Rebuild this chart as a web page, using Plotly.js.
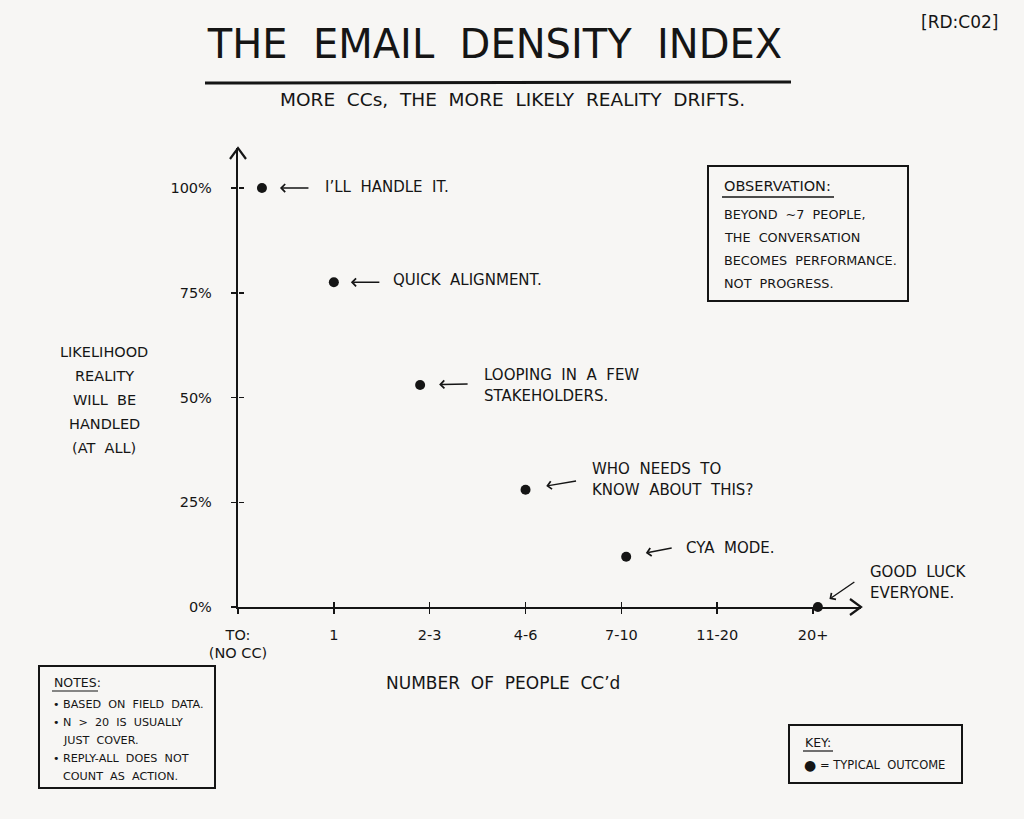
<!DOCTYPE html>
<html>
<head>
<meta charset="utf-8">
<script src="https://cdn.plot.ly/plotly-3.0.1.min.js"></script>
<style>html,body{margin:0;padding:0;background:#f7f6f4;}</style>
</head>
<body>
<div id="chart" style="width:1024px;height:819px;"></div>
<script>
// ---- data ----
const categories = ['TO:<br>(NO CC)', '1', '2-3', '4-6', '7-10', '11-20', '20+'];
const categoryPos = [0, 1, 2, 3, 4, 5, 6];
const pointX = [0.25, 1.0, 1.9, 3.0, 4.05, 6.05];
const likelihood = [100, 77.5, 53, 28, 12, 0];
const pointLabels = ["I’LL HANDLE IT.", 'QUICK ALIGNMENT.', 'LOOPING IN A FEW<br>STAKEHOLDERS.',
  'WHO NEEDS TO<br>KNOW ABOUT THIS?', 'CYA MODE.', 'GOOD LUCK<br>EVERYONE.'];
const yTickVals = [0, 25, 50, 75, 100];
const yTickText = ['0%', '25%', '50%', '75%', '100%'];
const yTitleLines = ['LIKELIHOOD', 'REALITY', 'WILL BE', 'HANDLED', '(AT ALL)'];
const obsLines = ['BEYOND ~7 PEOPLE,', 'THE CONVERSATION', 'BECOMES PERFORMANCE.', 'NOT PROGRESS.'];
const noteLines = [['•', 'BASED ON FIELD DATA.'], ['•', 'N > 20 IS USUALLY'], ['', 'JUST COVER.'], ['•', 'REPLY-ALL DOES NOT'], ['', 'COUNT AS ACTION.']];

// ---- styling / layout helpers ----
const FONT = "'DejaVu Sans', 'Noto Sans', sans-serif";
const INK = '#151515';
const BG = '#f7f6f4';
const L = 238, R = 861, T = 148, B = 607;
const W = R - L, H = B - T;
const px = x => (x - L) / W;
const py = y => (B - y) / H;
const gap = n => s => s.replace(/ /g, '\u00a0'.repeat(n));
const sp2 = gap(2), sp3 = gap(3);

// arrow (tail offset ax, ay; standoff) and text offsets per label
const arrowStyle = [
  {ax: 48, ay: 0, so: 18}, {ax: 47, ay: 0, so: 17}, {ax: 49, ay: -1, so: 19},
  {ax: 52, ay: -9, so: 21}, {ax: 47, ay: -9, so: 20}, {ax: 38, ay: -26, so: 14}];
const textStyle = [
  {dx: 61, dy: [1]}, {dx: 57, dy: [2]}, {dx: 62, dy: [10, -11]},
  {dx: 64, dy: [21, 0]}, {dx: 58, dy: [9]}, {dx: 50, dy: [35, 14]}];

const traces = [{
  type: 'scatter', mode: 'markers', x: pointX, y: likelihood,
  marker: {color: INK, size: 10}, cliponaxis: false, hoverinfo: 'skip', showlegend: false
}, {
  type: 'scatter', mode: 'markers', x: [], y: [], xaxis: 'x2', yaxis: 'y2', showlegend: false
}];

const annotations = [];
const shapes = [];

// point labels + arrows
pointLabels.forEach((lab, i) => {
  const a = arrowStyle[i];
  annotations.push({x: pointX[i], y: likelihood[i], xref: 'x', yref: 'y', text: '', showarrow: true,
    ax: a.ax, ay: a.ay, standoff: a.so, arrowhead: 4, arrowsize: 1.1, arrowwidth: 1.4, arrowcolor: INK});
  const lines = lab.split('<br>');
  lines.forEach((ln, j) => {
    annotations.push({x: pointX[i], y: likelihood[i], xref: 'x', yref: 'y', text: sp2(ln), showarrow: false,
      xanchor: 'left', yanchor: 'middle', xshift: textStyle[i].dx, yshift: textStyle[i].dy[j],
      font: {family: FONT, size: 15, color: INK}});
  });
});

// y title lines
yTitleLines.forEach((ln, j) => {
  annotations.push({x: px(104), y: py(352 + 24 * j), xref: 'paper', yref: 'paper', text: sp2(ln),
    showarrow: false, xanchor: 'center', yanchor: 'middle', font: {family: FONT, size: 14.5, color: INK}});
});

// x title
annotations.push({x: px(503), y: py(683), xref: 'paper', yref: 'paper', text: sp2('NUMBER OF PEOPLE CC’d'),
  showarrow: false, xanchor: 'center', yanchor: 'middle', font: {family: FONT, size: 17, color: INK}});

// subtitle & tag
annotations.push({x: px(512), y: py(100), xref: 'paper', yref: 'paper', text: sp2('MORE CCs, THE MORE LIKELY REALITY DRIFTS.'),
  showarrow: false, xanchor: 'center', yanchor: 'middle', font: {family: FONT, size: 18.5, color: INK}});
annotations.push({x: px(1000), y: py(22), xref: 'paper', yref: 'paper', text: '[RD:C02]',
  showarrow: false, xanchor: 'right', yanchor: 'middle', font: {family: FONT, size: 17, color: INK}});

// title underline
shapes.push({type: 'line', xref: 'paper', yref: 'paper', x0: px(205), x1: px(791), y0: py(83), y1: py(82),
  line: {color: INK, width: 3}});

// observation box
shapes.push({type: 'rect', xref: 'paper', yref: 'paper', x0: px(708), x1: px(908), y0: py(166), y1: py(301),
  line: {color: INK, width: 2}, fillcolor: 'rgba(0,0,0,0)'});
annotations.push({x: px(722), y: py(186), xref: 'paper', yref: 'paper', text: 'OBSERVATION:', showarrow: false,
  xanchor: 'left', yanchor: 'middle', font: {family: FONT, size: 14.5, color: INK}});
shapes.push({type: 'line', xref: 'paper', yref: 'paper', x0: px(722), x1: px(834), y0: py(197), y1: py(197),
  line: {color: INK, width: 1.3}});
obsLines.forEach((ln, j) => {
  annotations.push({x: px(722), y: py(214 + 23 * j), xref: 'paper', yref: 'paper', text: sp2(ln), showarrow: false,
    xanchor: 'left', yanchor: 'middle', font: {family: FONT, size: 12.8, color: INK}});
});

// notes box
shapes.push({type: 'rect', xref: 'paper', yref: 'paper', x0: px(39), x1: px(215), y0: py(666), y1: py(788),
  line: {color: INK, width: 2}, fillcolor: 'rgba(0,0,0,0)'});
annotations.push({x: px(52), y: py(682), xref: 'paper', yref: 'paper', text: 'NOTES:', showarrow: false,
  xanchor: 'left', yanchor: 'middle', font: {family: FONT, size: 12.5, color: INK}});
shapes.push({type: 'line', xref: 'paper', yref: 'paper', x0: px(52), x1: px(98), y0: py(691), y1: py(691),
  line: {color: INK, width: 1.2}});
noteLines.forEach((ln, j) => {
  const yy = py(704 + 18.2 * j);
  if (ln[0]) annotations.push({x: px(51), y: yy, xref: 'paper', yref: 'paper', text: ln[0], showarrow: false,
    xanchor: 'left', yanchor: 'middle', font: {family: FONT, size: 11, color: INK}});
  annotations.push({x: px(61), y: yy, xref: 'paper', yref: 'paper', text: sp2(ln[1]), showarrow: false,
    xanchor: 'left', yanchor: 'middle', font: {family: FONT, size: 11.2, color: INK}});
});

// key box
shapes.push({type: 'rect', xref: 'paper', yref: 'paper', x0: px(789), x1: px(962), y0: py(725), y1: py(783),
  line: {color: INK, width: 2}, fillcolor: 'rgba(0,0,0,0)'});
annotations.push({x: px(803), y: py(742), xref: 'paper', yref: 'paper', text: 'KEY:', showarrow: false,
  xanchor: 'left', yanchor: 'middle', font: {family: FONT, size: 12.5, color: INK}});
shapes.push({type: 'line', xref: 'paper', yref: 'paper', x0: px(803), x1: px(833), y0: py(751), y1: py(751),
  line: {color: INK, width: 1.2}});
annotations.push({x: px(802), y: py(765), xref: 'paper', yref: 'paper', text: '●', showarrow: false,
  xanchor: 'left', yanchor: 'middle', font: {family: FONT, size: 14, color: INK}});
annotations.push({x: px(818), y: py(765), xref: 'paper', yref: 'paper', text: '=\u00a0TYPICAL\u00a0\u00a0OUTCOME', showarrow: false,
  xanchor: 'left', yanchor: 'middle', font: {family: FONT, size: 11.5, color: INK}});

// axis arrowheads (open chevrons)
shapes.push({type: 'path', xref: 'paper', yref: 'paper', xsizemode: 'pixel', ysizemode: 'pixel', xanchor: 0, yanchor: 1,
  path: 'M -8 -11 L 0 0 L 8 -11', line: {color: INK, width: 2.2}});
shapes.push({type: 'path', xref: 'paper', yref: 'paper', xsizemode: 'pixel', ysizemode: 'pixel', xanchor: 1, yanchor: 0,
  path: 'M -11 8 L 0 0 L -11 -8', line: {color: INK, width: 2.2}});

const layout = {
  width: 1024, height: 819,
  paper_bgcolor: BG, plot_bgcolor: BG,
  margin: {l: L, r: 1024 - R, t: T, b: 819 - B},
  showlegend: false,
  title: {text: sp2('THE EMAIL DENSITY INDEX'), x: 495 / 1024, xref: 'container', xanchor: 'center',
    y: 1 - 44 / 819, yref: 'container', yanchor: 'middle', font: {family: FONT, size: 40, color: INK}},
  xaxis: {range: [0, 6.5], tickvals: categoryPos, ticktext: categories, showgrid: false, zeroline: false,
    showline: true, linecolor: INK, linewidth: 2.2, ticks: 'outside', ticklen: 5, tickwidth: 1.5, tickcolor: INK,
    ticklabelstandoff: 8, tickfont: {family: FONT, size: 14.5, color: INK}, fixedrange: true},
  yaxis: {range: [0, 109.55], tickvals: yTickVals, ticktext: yTickText, showgrid: false, zeroline: false,
    showline: true, linecolor: INK, linewidth: 2.2, ticks: 'outside', ticklen: 5, tickwidth: 1.5, tickcolor: INK,
    ticklabelstandoff: 16, tickfont: {family: FONT, size: 14.5, color: INK}, fixedrange: true},
  xaxis2: {overlaying: 'x', matches: 'x', side: 'top', anchor: 'free', position: 0, tickvals: [1, 2, 3, 4, 5],
    showticklabels: false, ticks: 'outside', ticklen: 5, tickwidth: 1.5, tickcolor: INK, showgrid: false,
    zeroline: false, showline: false},
  yaxis2: {overlaying: 'y', matches: 'y', side: 'right', anchor: 'free', position: 0, tickvals: [25, 50, 75, 100],
    showticklabels: false, ticks: 'outside', ticklen: 5, tickwidth: 1.5, tickcolor: INK, showgrid: false,
    zeroline: false, showline: false},
  annotations: annotations,
  shapes: shapes
};

Plotly.newPlot('chart', traces, layout, {displayModeBar: false, staticPlot: true});
</script>
</body>
</html>
